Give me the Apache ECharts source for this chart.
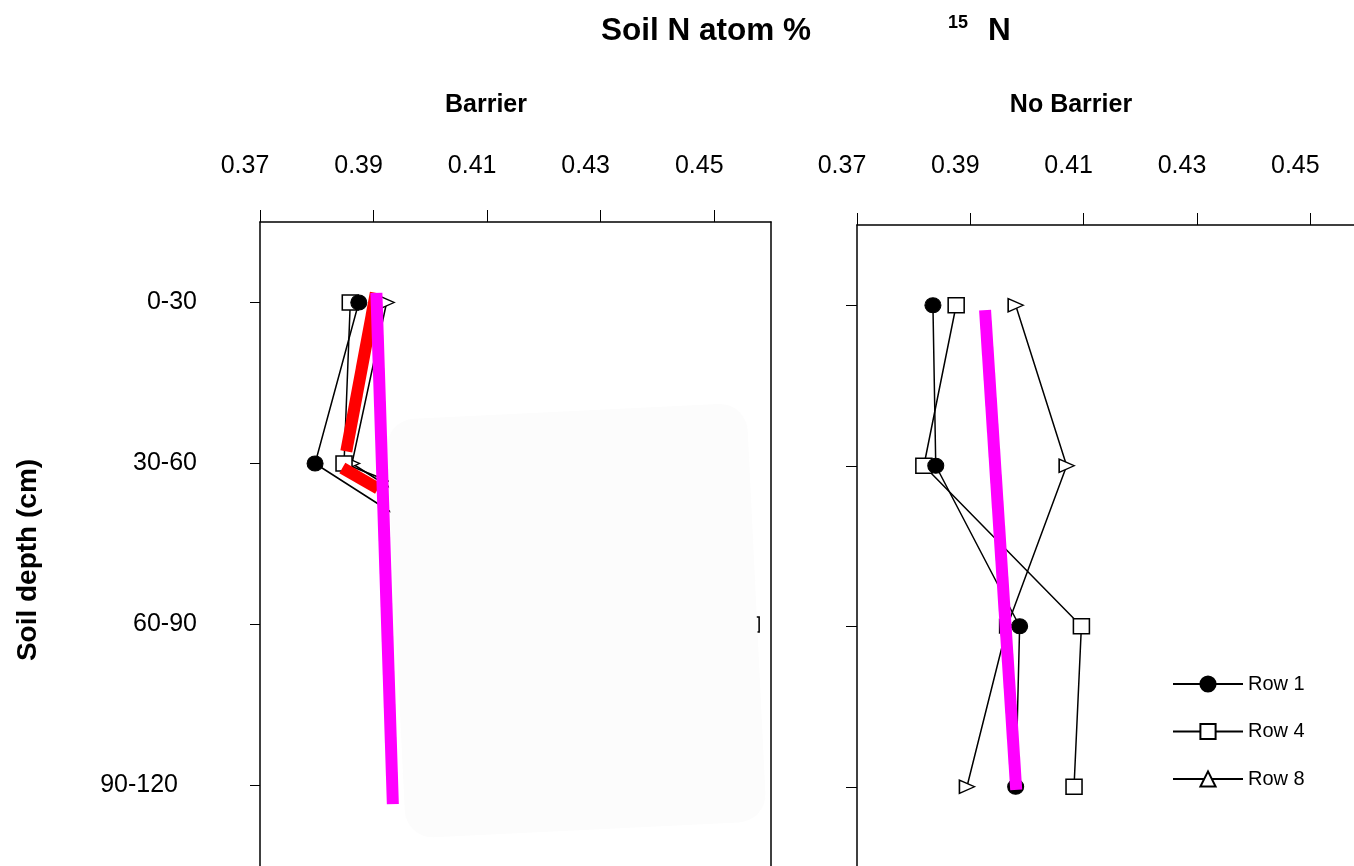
<!DOCTYPE html>
<html>
<head>
<meta charset="utf-8">
<script src="https://cdn.jsdelivr.net/npm/echarts@6/dist/echarts.min.js"></script>
<style>html,body{margin:0;padding:0;background:#fff;}#c{width:1354px;height:866px;}</style>
</head>
<body>
<div id="c"></div>
<script>
// ---- data ----
const depths = ['0-30', '30-60', '60-90', '90-120'];
const xTicks = [0.37, 0.39, 0.41, 0.43, 0.45];
const seriesNames = ['Row 1', 'Row 4', 'Row 8'];
// Barrier panel (values below 30-60 cm are hidden behind the overlay in the source picture; estimated)
const barrierRow1 = [0.3874, 0.3797, 0.424, 0.415];
const barrierRow4 = [0.3859, 0.3848, 0.4565, 0.438];
const barrierRow8 = [0.3923, 0.3862, 0.431, 0.420];
// No Barrier panel
const noBarrierRow1 = [0.3834, 0.3839, 0.3987, 0.3980];
const noBarrierRow4 = [0.3875, 0.3818, 0.4096, 0.4083];
const noBarrierRow8 = [0.3980, 0.4070, 0.3965, 0.3894];
// overlay trend strokes: [atom %, depth position (0 = 0-30 ... 3 = 90-120)]
const barrierMagenta = [[0.3905, -0.06], [0.3934, 3.116]];
const barrierRed1 = [[0.3904, -0.06], [0.3852, 0.925]];
const barrierRed2 = [[0.3845, 1.028], [0.3908, 1.156]];
const noBarrierMagenta = [[0.3926, 0.03], [0.3981, 3.02]];

const FONT = 'Liberation Sans, Arial, sans-serif';
const chart = echarts.init(document.getElementById('c'), null, {renderer: 'canvas'});

function pairs(vals) { return vals.map((v, i) => [v, depths[i]]); }

const symbols = {
  'Row 1': {symbol: 'circle', symbolSize: [16, 15], itemStyle: {color: '#000', borderColor: '#000', borderWidth: 1}},
  'Row 4': {symbol: 'rect', symbolSize: [16, 15], itemStyle: {color: '#fff', borderColor: '#000', borderWidth: 1.5}},
  'Row 8': {symbol: 'triangle', symbolSize: [13, 15], symbolRotate: -90, itemStyle: {color: '#fff', borderColor: '#000', borderWidth: 1.5}}
};

function rowSeries(name, vals, gi) {
  const s = symbols[name];
  return Object.assign({
    type: 'line', name: name, xAxisIndex: gi, yAxisIndex: gi,
    data: pairs(vals), lineStyle: {color: '#000', width: 1.5}, showSymbol: true,
    z: 3, silent: true, animation: false
  }, s);
}
function strokeSeries(name, data, gi, color, width, z) {
  return {
    type: 'line', name: name, xAxisIndex: gi, yAxisIndex: gi + 2, data: data,
    symbol: 'none', lineStyle: {color: color, width: width, cap: 'butt'}, z: z,
    silent: true, animation: false
  };
}

function xAxisFor(gi, margin) {
  return {
    type: 'value', gridIndex: gi, position: 'top', min: 0.37, max: 0.46,
    axisLine: {show: true, onZero: false, lineStyle: {color: '#000', width: 1.5}},
    axisTick: {show: true, inside: false, length: 12, customValues: xTicks, lineStyle: {color: '#000', width: 1}},
    axisLabel: {show: true, customValues: xTicks, margin: margin, fontSize: 25, fontFamily: FONT, color: '#000',
      padding: [0, 30, 0, 0], formatter: v => v.toFixed(2)},
    splitLine: {show: false}
  };
}
function yCatFor(gi, showLabels, tickLen) {
  return {
    type: 'category', gridIndex: gi, data: depths, inverse: true, boundaryGap: true,
    axisLine: {show: true, onZero: false, lineStyle: {color: '#000', width: 1.5}},
    axisTick: {show: true, alignWithLabel: true, length: tickLen, lineStyle: {color: '#000', width: 1}},
    axisLabel: {show: showLabels, margin: 63, fontSize: 25, fontFamily: FONT, color: '#000', align: 'right',
      formatter: v => v === '90-120' ? '{s|' + v + '}' : v,
      rich: {s: {fontSize: 25, fontFamily: FONT, color: '#000', padding: [0, 19, 0, 0]}}},
    splitLine: {show: false}
  };
}
function yValFor(gi) {
  return {type: 'value', gridIndex: gi, min: -0.5, max: 3.5, inverse: true, show: false,
    axisLine: {show: false}, axisTick: {show: false}, axisLabel: {show: false}, splitLine: {show: false}};
}
// right-hand frame line of the Barrier panel
const rightFrame = {type: 'value', gridIndex: 0, position: 'right', min: 0, max: 1,
  axisLine: {show: true, onZero: false, lineStyle: {color: '#000', width: 1.5}},
  axisTick: {show: false}, axisLabel: {show: false}, splitLine: {show: false}};

const titleStyle = {fontWeight: 'bold', fontFamily: FONT, color: '#000'};
const option = {
  backgroundColor: '#fff',
  animation: false,
  title: [
    {text: 'Soil N atom %', left: 596, top: 10, textStyle: Object.assign({fontSize: 31.5}, titleStyle)},
    {text: '15', left: 943, top: 9, textStyle: Object.assign({fontSize: 18}, titleStyle)},
    {text: 'N', left: 983, top: 10, textStyle: Object.assign({fontSize: 31.5}, titleStyle)},
    {text: 'Barrier', left: 481, top: 88, textAlign: 'center', textStyle: Object.assign({fontSize: 25}, titleStyle)},
    {text: 'No Barrier', left: 1066, top: 88, textAlign: 'center', textStyle: Object.assign({fontSize: 25}, titleStyle)}
  ],
  grid: [
    {left: 260, top: 222, width: 511, height: 644, show: false, outerBoundsMode: 'none', containLabel: false},
    {left: 857, top: 225, width: 510, height: 642, show: false, outerBoundsMode: 'none', containLabel: false}
  ],
  xAxis: [xAxisFor(0, 43), xAxisFor(1, 46)],
  yAxis: [yCatFor(0, true, 10), yCatFor(1, false, 11), yValFor(0), yValFor(1), rightFrame],
  legend: {
    show: true, orient: 'vertical', left: 1167, top: 669, itemWidth: 70, itemHeight: 19, itemGap: 27.5,
    symbolRotate: 0, data: seriesNames,
    textStyle: {fontSize: 20, fontFamily: FONT, color: '#000'}
  },
  graphic: [
    {type: 'rect', x: 576.25, y: 620.6, rotation: 0.0487, z: 50,
      shape: {x: -180.5, y: -209.5, width: 361, height: 419, r: 28},
      style: {fill: '#fcfcfc', stroke: null}, silent: true},
    {type: 'text', x: 28, y: 560, rotation: Math.PI / 2, z: 10,
      style: {text: 'Soil depth (cm)', font: 'bold 28px ' + FONT, fill: '#000', align: 'center', verticalAlign: 'middle'}}
  ],
  series: [
    // drawn in this order so that Row 1 markers sit on top, as in the source
    rowSeries('Row 8', barrierRow8, 0),
    rowSeries('Row 4', barrierRow4, 0),
    rowSeries('Row 1', barrierRow1, 0),
    rowSeries('Row 8', noBarrierRow8, 1),
    rowSeries('Row 4', noBarrierRow4, 1),
    rowSeries('Row 1', noBarrierRow1, 1),
    strokeSeries('trend red a', barrierRed1, 0, '#ff0000', 12, 4),
    strokeSeries('trend red b', barrierRed2, 0, '#ff0000', 12, 4),
    strokeSeries('trend magenta', barrierMagenta, 0, '#ff00ff', 12, 100),
    strokeSeries('trend magenta 2', noBarrierMagenta, 1, '#ff00ff', 12, 100)
  ]
};
chart.setOption(option);
</script>
</body>
</html>
